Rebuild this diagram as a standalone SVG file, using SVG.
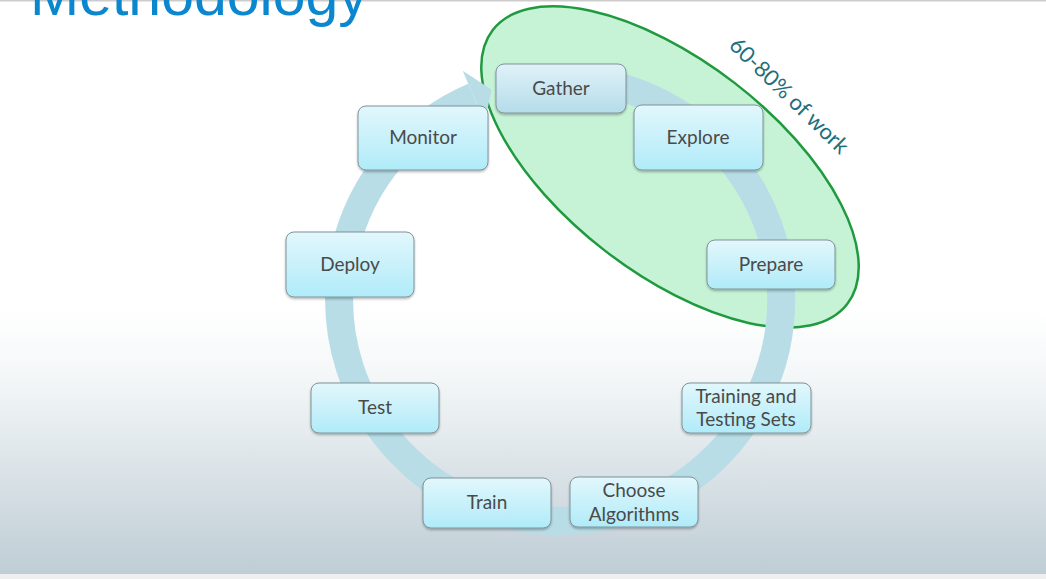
<svg xmlns="http://www.w3.org/2000/svg" width="1046" height="579" viewBox="0 0 1046 579">
  <defs>
    <linearGradient id="bg" x1="0" y1="0" x2="0" y2="1">
      <stop offset="0" stop-color="#ffffff"/>
      <stop offset="0.25" stop-color="#f4f7f8"/>
      <stop offset="1" stop-color="#bfcdd5"/>
    </linearGradient>
    <linearGradient id="nodeFill" x1="0" y1="0" x2="0" y2="1">
      <stop offset="0" stop-color="#e2f7fc"/>
      <stop offset="1" stop-color="#b0ebf9"/>
    </linearGradient>
    <linearGradient id="gatherFill" x1="0" y1="0" x2="0" y2="1">
      <stop offset="0" stop-color="#e0f2f8"/>
      <stop offset="1" stop-color="#b4dcea"/>
    </linearGradient>
    <filter id="shadow" x="-10%" y="-10%" width="120%" height="130%">
      <feDropShadow dx="0" dy="1.5" stdDeviation="1" flood-color="#000000" flood-opacity="0.3"/>
    </filter>
  </defs>
  <style>
    .node rect { fill: url(#nodeFill); stroke: #7f9499; stroke-width: 1; filter: url(#shadow); }
    .node text { font-family: Lato, "Liberation Sans", sans-serif; font-size: 19px; fill: #4a4a4a; text-anchor: middle; }
    .ring { fill: none; stroke: #b8dde6; stroke-width: 28; }
    .head { fill: #b8dde6; }
  </style>

  <rect x="0" y="0" width="1046" height="579" fill="#ffffff"/>
  <rect x="0" y="310" width="1046" height="264" fill="url(#bg)"/>
  <rect x="0" y="574" width="1046" height="5" fill="#efefef"/>
  <rect x="0" y="0" width="1046" height="1.5" fill="#cccccc"/>

  <text x="30" y="15" font-family="'Liberation Sans', Arial, sans-serif" font-size="59" fill="#0a87cf">Methodology</text>

  <g id="focus-area">
    <ellipse cx="670" cy="167" rx="224" ry="106" transform="rotate(37.7 670 167)" fill="#c6f3d6" stroke="#1f9a3f" stroke-width="2.5"/>
    <text x="784" y="101" transform="rotate(44 784 101)" font-family="Lato, 'Liberation Sans', sans-serif" font-size="22" fill="#226e7a" text-anchor="middle">60-80% of work</text>
  </g>

  <g id="connectors">
    <path class="ring" d="M 579.3 79.8 A 221 221 0 1 1 473.7 96.6"/>
    <polygon class="head" points="462.7,70.8 491.7,89.8 484.6,122.3"/>
  </g>

  <g id="node-gather" class="node">
    <rect x="496" y="64" width="130" height="49" rx="8" style="fill:url(#gatherFill)"/>
    <text x="561" y="95">Gather</text>
  </g>
  <g id="node-explore" class="node">
    <rect x="634" y="105" width="129" height="65" rx="8"/>
    <text x="698" y="144">Explore</text>
  </g>
  <g id="node-prepare" class="node">
    <rect x="707" y="240" width="128" height="49" rx="8"/>
    <text x="771" y="271">Prepare</text>
  </g>
  <g id="node-training" class="node">
    <rect x="682" y="383" width="129" height="50" rx="8"/>
    <text x="746" y="403">Training and</text>
    <text x="746" y="426">Testing Sets</text>
  </g>
  <g id="node-choose" class="node">
    <rect x="570" y="477" width="128" height="50" rx="8"/>
    <text x="634" y="497">Choose</text>
    <text x="634" y="521">Algorithms</text>
  </g>
  <g id="node-train" class="node">
    <rect x="423" y="478" width="128" height="50" rx="8"/>
    <text x="487" y="509">Train</text>
  </g>
  <g id="node-test" class="node">
    <rect x="311" y="383" width="128" height="50" rx="8"/>
    <text x="375" y="414">Test</text>
  </g>
  <g id="node-deploy" class="node">
    <rect x="286" y="232" width="128" height="65" rx="8"/>
    <text x="350" y="271">Deploy</text>
  </g>
  <g id="node-monitor" class="node">
    <rect x="358" y="106" width="130" height="64" rx="8"/>
    <text x="423" y="144">Monitor</text>
  </g>
</svg>
